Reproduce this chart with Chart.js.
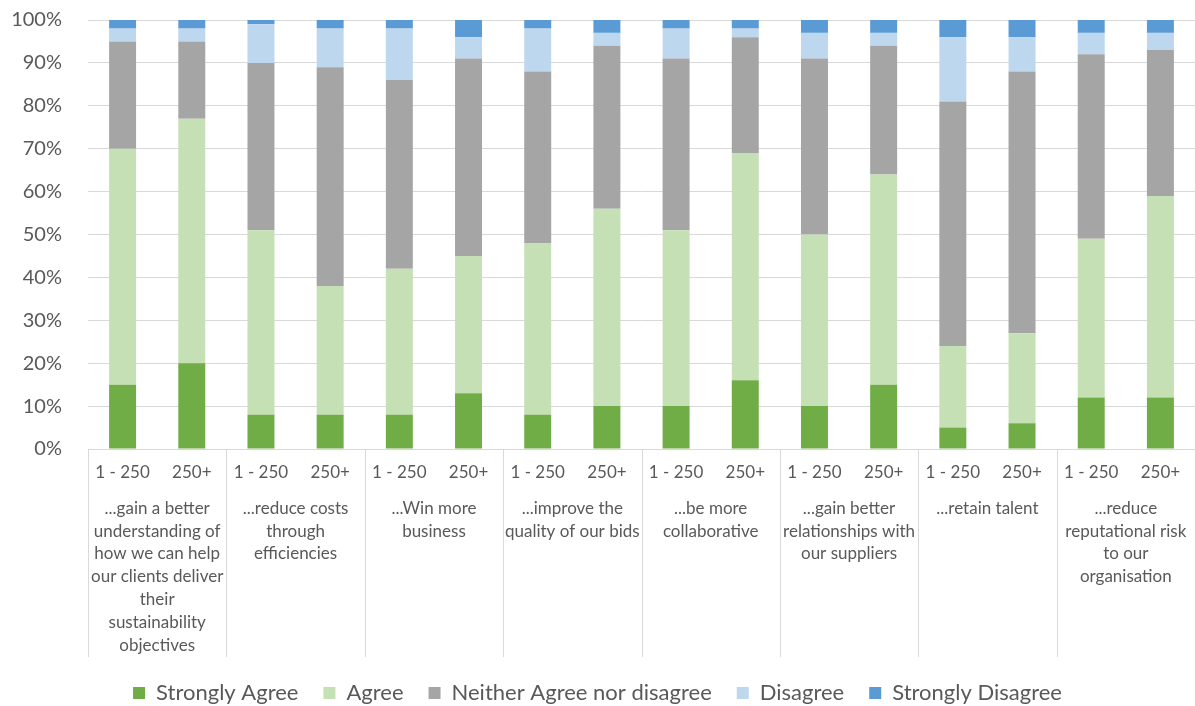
<!DOCTYPE html>
<html>
<head>
<meta charset="utf-8">
<script src="https://cdn.jsdelivr.net/npm/chart.js@4.4.1/dist/chart.umd.min.js"></script>
<style>
    html, body { margin: 0; padding: 0; background: #fff; }
</style>
</head>
<body>
<canvas id="chart" width="1195" height="706"></canvas>
<script>
// Company size (inner category level)
const sizeLabels = ['1 - 250', '250+', '1 - 250', '250+', '1 - 250', '250+', '1 - 250', '250+',
                    '1 - 250', '250+', '1 - 250', '250+', '1 - 250', '250+', '1 - 250', '250+'];

// Benefit statements (outer category level)
const groupLabels = [
    ['...gain a better', 'understanding of', 'how we can help', 'our clients deliver', 'their', 'sustainability', 'objectives'],
    ['...reduce costs', 'through', 'efficiencies'],
    ['...Win more', 'business'],
    ['...improve the', 'quality of our bids'],
    ['...be more', 'collaborative'],
    ['...gain better', 'relationships with', 'our suppliers'],
    ['...retain talent'],
    ['...reduce', 'reputational risk', 'to our', 'organisation']
];

// Percent of respondents
const stronglyAgree = [15, 20, 8, 8, 8, 13, 8, 10, 10, 16, 10, 15, 5, 6, 12, 12];
const agree         = [55, 57, 43, 30, 34, 32, 40, 46, 41, 53, 40, 49, 19, 21, 37, 47];
const neither       = [25, 18, 39, 51, 44, 46, 40, 38, 40, 27, 41, 30, 57, 61, 43, 34];
const disagree      = [3, 3, 9, 9, 12, 5, 10, 3, 7, 2, 6, 3, 15, 8, 5, 4];
const stronglyDis   = [2, 2, 1, 2, 2, 4, 2, 3, 2, 2, 3, 3, 4, 4, 3, 3];

const textColor = '#595959';
const gridColor = '#d9d9d9';
const fontFamily = 'Lato, "Open Sans", sans-serif';

// Draw the vertical separators between benefit groups under the axis
const groupSeparators = {
    id: 'groupSeparators',
    afterDraw(chart) {
        const x = chart.scales.x;
        const x2 = chart.scales.x2;
        const ctx = chart.ctx;
        const half = (x.getPixelForValue(1) - x.getPixelForValue(0)) / 2;
        ctx.save();
        ctx.strokeStyle = gridColor;
        ctx.lineWidth = 1;
        ctx.beginPath();
        for (let i = 0; i < sizeLabels.length; i += 2) {
            const px = Math.round(x.getPixelForValue(i) - half) + 0.5;
            ctx.moveTo(px, x.top);
            ctx.lineTo(px, x2.bottom);
        }
        ctx.stroke();
        ctx.restore();
    }
};

function makeSet(label, data, color) {
    return {
        label: label,
        data: data,
        backgroundColor: color,
        borderWidth: 0,
        barPercentage: 0.39,
        categoryPercentage: 1.0
    };
}

const ctx = document.getElementById('chart').getContext('2d');
new Chart(ctx, {
    type: 'bar',
    data: {
        labels: sizeLabels,
        datasets: [
            makeSet('Strongly Agree', stronglyAgree, '#70ad47'),
            makeSet('Agree', agree, '#c5e0b4'),
            makeSet('Neither Agree nor disagree', neither, '#a5a5a5'),
            makeSet('Disagree', disagree, '#bdd7ee'),
            makeSet('Strongly Disagree', stronglyDis, '#5b9bd5')
        ]
    },
    options: {
        responsive: false,
        animation: false,
        // negative bottom padding pushes the legend down a little
        layout: { padding: { top: 20, right: 0, left: 0, bottom: -8 } },
        plugins: {
            tooltip: { enabled: false },
            legend: {
                position: 'bottom',
                labels: {
                    color: textColor,
                    font: { family: fontFamily, size: 22 },
                    boxWidth: 12,
                    boxHeight: 12,
                    padding: 25
                }
            }
        },
        scales: {
            x: {
                stacked: true,
                grid: { display: false },
                border: { display: true, color: gridColor },
                ticks: {
                    color: textColor,
                    font: { family: fontFamily, size: 17 },
                    maxRotation: 0,
                    autoSkip: false,
                    padding: 5
                },
                afterFit(scale) { scale.height = 40; }
            },
            x2: {
                type: 'category',
                position: 'bottom',
                labels: groupLabels,
                offset: true,
                grid: { display: false },
                border: { display: false },
                ticks: {
                    color: textColor,
                    font: { family: fontFamily, size: 17, lineHeight: 1.34 },
                    maxRotation: 0,
                    autoSkip: false,
                    padding: 0
                },
                afterFit(scale) { scale.height = 168; }
            },
            y: {
                stacked: true,
                min: 0,
                max: 100,
                grid: { color: gridColor, drawTicks: false },
                border: { display: false },
                ticks: {
                    stepSize: 10,
                    color: textColor,
                    font: { family: fontFamily, size: 20 },
                    padding: 26,
                    callback: v => v + '%'
                },
                afterFit(scale) {
                    scale.width = 88;
                    scale.paddingTop = 0;
                    scale.paddingBottom = 0;
                }
            }
        }
    },
    plugins: [groupSeparators]
});
</script>
</body>
</html>
